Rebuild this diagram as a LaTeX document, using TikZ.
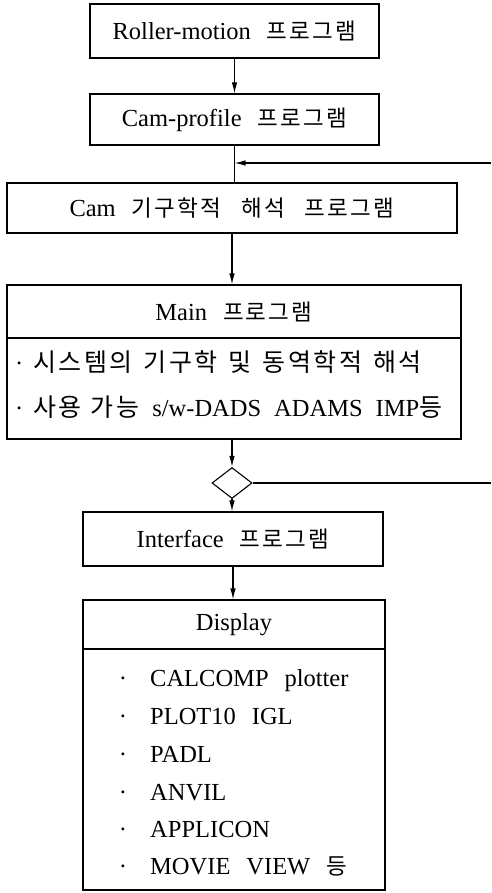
\documentclass[tikz,border=0pt]{standalone}
\usepackage{fontspec}
\setmainfont[WordSpace=2.6]{Liberation Serif}
\newfontfamily\kr[LetterSpace=10]{Noto Sans CJK KR}
\usetikzlibrary{arrows.meta,shapes.geometric}
\newcommand{\hg}[1]{{\kr\fontsize{22.5}{28}\selectfont #1}}
\newcommand{\hgb}[1]{{\kr\fontsize{25}{28}\selectfont #1}}
\begin{document}
\begin{tikzpicture}[x=1pt,y=-1pt,
  box/.style={draw, line width=1.1pt, inner sep=0pt, font=\fontsize{24.5}{28}\selectfont},
  txt/.style={inner sep=0pt, font=\fontsize{24.5}{28}\selectfont},
  arr/.style={line width=1.1pt, -{Latex[length=11pt,width=5.5pt]}},
  ln/.style={line width=1.1pt}]
\useasboundingbox (0,0) rectangle (491,893);
\node[box, minimum width=289pt, minimum height=54pt] (b1) at (234.5,31) {Roller-motion \hg{프로그램}};
\node[box, minimum width=289pt, minimum height=51pt] (b2) at (234.5,119.5) {Cam-profile \hg{프로그램}};
\node[box, minimum width=450pt, minimum height=50pt] (b3) at (232,208) {Cam \hg{기구학적}\hspace{20pt}\hg{해석}\hspace{20pt}\hg{프로그램}};
\node[box, minimum width=454pt, minimum height=53pt] (mH) at (234,311.5) {Main \hg{프로그램}};
\node[box, minimum width=454pt, minimum height=101pt] (mB) at (234,388.5) {};
\node[txt, anchor=base west] (m1) at (15,371) {·\hspace{10pt}\hgb{시스템의}\hspace{11pt}\hgb{기구학}\hspace{11pt}\hgb{및}\hspace{11pt}\hgb{동역학적}\hspace{11pt}\hgb{해석}};
\node[txt, anchor=base west] (m2) at (15,416) {·\hspace{10pt}\hgb{사용}\hspace{9pt}\hgb{가능}\hspace{13pt}s/w-DADS\hspace{13pt}ADAMS\hspace{13pt}IMP\hgb{등}};
\node[draw, diamond, minimum width=40pt, minimum height=31pt, inner sep=0pt, line width=1.1pt] (dia) at (232,483) {};
\node[box, minimum width=300pt, minimum height=54pt] (ifc) at (233,539) {Interface \hg{프로그램}};
\node[box, minimum width=302pt, minimum height=49pt] (dH) at (234,624.5) {Display};
\node[box, minimum width=302pt, minimum height=241pt] (dB) at (234,769.5) {};
\foreach \i/\t/\yy in {1/CALCOMP plotter/686, 2/PLOT10 IGL/724, 3/PADL/762, 4/ANVIL/800, 5/APPLICON/837, 6/{MOVIE VIEW \hg{등}}/874}{
  \node[txt, anchor=base] (db\i) at (123,\yy) {·};
  \node[txt, anchor=base west] (dt\i) at (150,\yy) {\t};
}
\coordinate (fbT) at (491,163);
\coordinate (fbB) at (491,483);
\draw[arr] (b1.south) -- (b1.south |- b2.north);
\draw[ln] (b2.south) -- (b2.south |- b3.north);
\draw[arr] (fbT) -- (b2.south |- fbT);
\draw[arr] (b3.south) -- (b3.south |- mH.north);
\draw[arr] (dia.north |- mB.south) -- (dia.north);
\draw[arr] (dia.south) -- (dia.south |- ifc.north);
\draw[ln] (dia.east) -- (fbB);
\draw[arr] (ifc.south) -- (ifc.south |- dH.north);
\end{tikzpicture}
\end{document}
